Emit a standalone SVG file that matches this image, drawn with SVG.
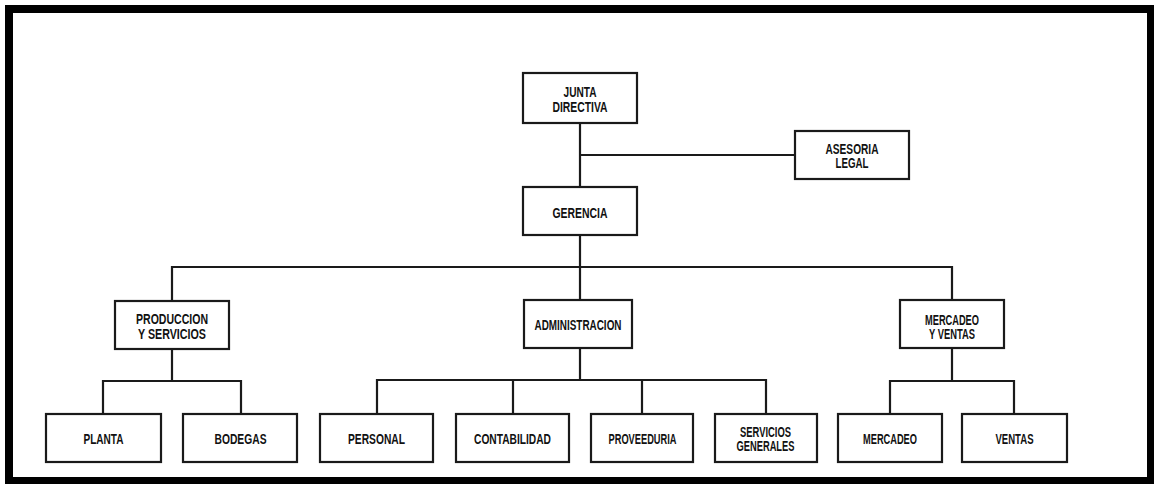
<svg xmlns="http://www.w3.org/2000/svg" width="1154" height="484" viewBox="0 0 1154 484">
<style>
.box{fill:#fff;stroke:#1a1a1a;stroke-width:2.2}
.ln{fill:none;stroke:#1a1a1a;stroke-width:2.2}
text{font-family:"Liberation Sans",Arial,sans-serif;font-size:14px;font-weight:bold;fill:#111;text-anchor:middle}
</style>
<rect x="0" y="0" width="1154" height="484" fill="#fff"/>
<rect x="9" y="9" width="1142" height="472" fill="none" stroke="#000" stroke-width="8"/>
<g id="connectors" class="ln">
<path d="M580 123V187M580 155H795"/>
<path d="M580 235V300M172 300V267H952V300"/>
<path d="M172 349V381M103 414V381H241V414"/>
<path d="M580 348V380M377 414V380H766V414M513 380V414M642 380V414"/>
<path d="M952 348V381M890 414V381H1014V414"/>
</g>
<g id="junta"><rect class="box" x="523" y="73" width="114" height="50"/><text x="580" y="97" textLength="33" lengthAdjust="spacingAndGlyphs">JUNTA</text><text x="580" y="112" textLength="55" lengthAdjust="spacingAndGlyphs">DIRECTIVA</text></g>
<g id="asesoria"><rect class="box" x="795" y="131" width="114" height="48"/><text x="852" y="153.5" textLength="53" lengthAdjust="spacingAndGlyphs">ASESORIA</text><text x="852" y="167.5" textLength="33" lengthAdjust="spacingAndGlyphs">LEGAL</text></g>
<g id="gerencia"><rect class="box" x="523" y="187" width="114" height="48"/><text x="580" y="218" textLength="55" lengthAdjust="spacingAndGlyphs">GERENCIA</text></g>
<g id="produccion"><rect class="box" x="115" y="301" width="114" height="48"/><text x="172" y="324" textLength="72" lengthAdjust="spacingAndGlyphs">PRODUCCION</text><text x="172" y="338.5" textLength="68" lengthAdjust="spacingAndGlyphs">Y SERVICIOS</text></g>
<g id="administracion"><rect class="box" x="524" y="300" width="108" height="48"/><text x="578" y="330" textLength="87" lengthAdjust="spacingAndGlyphs">ADMINISTRACION</text></g>
<g id="mercadeo_ventas"><rect class="box" x="900" y="300" width="104" height="48"/><text x="952" y="324.5" textLength="54" lengthAdjust="spacingAndGlyphs">MERCADEO</text><text x="952" y="338.5" textLength="46" lengthAdjust="spacingAndGlyphs">Y VENTAS</text></g>
<g id="planta"><rect class="box" x="46" y="414" width="115" height="48"/><text x="103.5" y="444" textLength="40" lengthAdjust="spacingAndGlyphs">PLANTA</text></g>
<g id="bodegas"><rect class="box" x="183" y="414" width="114" height="48"/><text x="240.5" y="444" textLength="52" lengthAdjust="spacingAndGlyphs">BODEGAS</text></g>
<g id="personal"><rect class="box" x="320" y="414" width="113" height="48"/><text x="376.5" y="444" textLength="57" lengthAdjust="spacingAndGlyphs">PERSONAL</text></g>
<g id="contabilidad"><rect class="box" x="456" y="414" width="113" height="48"/><text x="512.5" y="444" textLength="77" lengthAdjust="spacingAndGlyphs">CONTABILIDAD</text></g>
<g id="proveeduria"><rect class="box" x="591" y="414" width="102" height="48"/><text x="642.5" y="444" textLength="68" lengthAdjust="spacingAndGlyphs">PROVEEDURIA</text></g>
<g id="servicios_generales"><rect class="box" x="715" y="414" width="102" height="48"/><text x="765.5" y="437" textLength="51" lengthAdjust="spacingAndGlyphs">SERVICIOS</text><text x="765.5" y="451" textLength="58" lengthAdjust="spacingAndGlyphs">GENERALES</text></g>
<g id="mercadeo"><rect class="box" x="838" y="414" width="104" height="48"/><text x="890" y="444" textLength="54" lengthAdjust="spacingAndGlyphs">MERCADEO</text></g>
<g id="ventas"><rect class="box" x="962" y="414" width="105" height="48"/><text x="1014.5" y="444" textLength="38" lengthAdjust="spacingAndGlyphs">VENTAS</text></g>
</svg>
